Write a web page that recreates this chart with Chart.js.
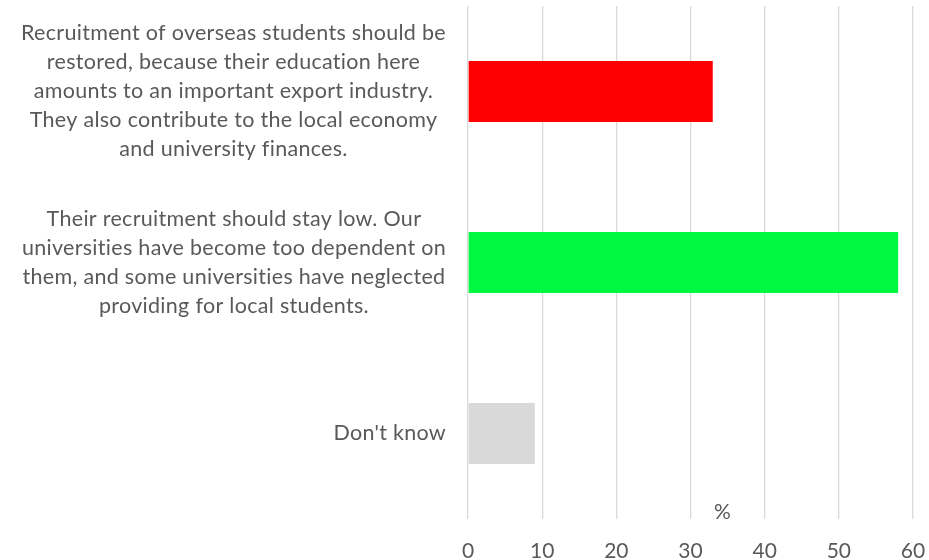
<!DOCTYPE html>
<html>
<head>
<meta charset="utf-8">
<script src="https://cdn.jsdelivr.net/npm/chart.js@4"></script>
<style>
  html, body { margin: 0; padding: 0; background: #ffffff; }
  #wrap { width: 929px; height: 560px; position: relative; }
</style>
</head>
<body>
<div id="wrap"><canvas id="chart"></canvas></div>
<script>
// Survey answers (wrapped lines) and the share of respondents choosing each
const categories = [
  ['Recruitment of overseas students should be',
   'restored, because their education here',
   'amounts to an important export industry.',
   'They also contribute to the local economy',
   'and university finances.'],
  ['Their recruitment should stay low. Our',
   'universities have become too dependent on',
   'them, and some universities have neglected',
   'providing for local students.'],
  ["Don't know"]
];
const percentages = [33, 58, 9];
const barColors = ['#ff0000', '#00f840', '#d9d9d9'];
const xTickValues = [0, 10, 20, 30, 40, 50, 60];
const xAxisTitle = '%';

const FONT = 'Lato, "Open Sans", sans-serif';
const TEXT_COLOR = '#595959';

// Category labels: each block centred on itself, blocks right-aligned against the plot
const categoryLabels = {
  id: 'categoryLabels',
  afterDraw(chart) {
    const { ctx, scales: { y }, chartArea } = chart;
    const lineHeight = 29;
    const rightEdge = chartArea.left - 22;
    ctx.save();
    ctx.font = '21.5px ' + FONT;
    ctx.letterSpacing = '0.3px';
    ctx.fillStyle = TEXT_COLOR;
    ctx.textAlign = 'center';
    ctx.textBaseline = 'middle';
    categories.forEach((lines, i) => {
      const cy = y.getPixelForValue(i);
      const maxW = Math.max(...lines.map(l => ctx.measureText(l).width));
      const cx = rightEdge - maxW / 2;
      const top = cy - (lines.length - 1) * lineHeight / 2;
      lines.forEach((line, j) => ctx.fillText(line, cx, top + j * lineHeight));
    });
    ctx.restore();
  }
};

// The "%" unit caption sits just inside the bottom of the plot
const unitCaption = {
  id: 'unitCaption',
  afterDraw(chart) {
    const { ctx, chartArea } = chart;
    ctx.save();
    ctx.font = '21px ' + FONT;
    ctx.fillStyle = TEXT_COLOR;
    ctx.textAlign = 'center';
    ctx.textBaseline = 'middle';
    ctx.fillText(xAxisTitle, chartArea.left + chartArea.width * 0.572, chartArea.bottom - 7);
    ctx.restore();
  }
};

new Chart(document.getElementById('chart'), {
  type: 'bar',
  data: {
    labels: categories.map(c => c.join(' ')),
    datasets: [{
      data: percentages,
      backgroundColor: barColors,
      borderWidth: 0,
      barPercentage: 0.357,
      categoryPercentage: 1
    }]
  },
  options: {
    indexAxis: 'y',
    responsive: true,
    maintainAspectRatio: false,
    animation: false,
    layout: { padding: { top: 6, right: 0, bottom: 0, left: 0 } },
    plugins: {
      legend: { display: false },
      tooltip: { enabled: false }
    },
    scales: {
      x: {
        min: 0,
        max: 60,
        afterBuildTicks(scale) { scale.ticks = xTickValues.map(v => ({ value: v })); },
        afterFit(scale) { scale.height = 41; scale.paddingRight = 16; },
        grid: { color: '#d9d9d9', lineWidth: 1.3, drawTicks: false },
        border: { display: false },
        ticks: {
          padding: 20,
          color: TEXT_COLOR,
          font: { family: FONT, size: 21 }
        }
      },
      y: {
        afterFit(scale) { scale.width = 468; },
        grid: { display: false },
        border: { display: false },
        ticks: { display: false }
      }
    }
  },
  plugins: [categoryLabels, unitCaption]
});
</script>
</body>
</html>
